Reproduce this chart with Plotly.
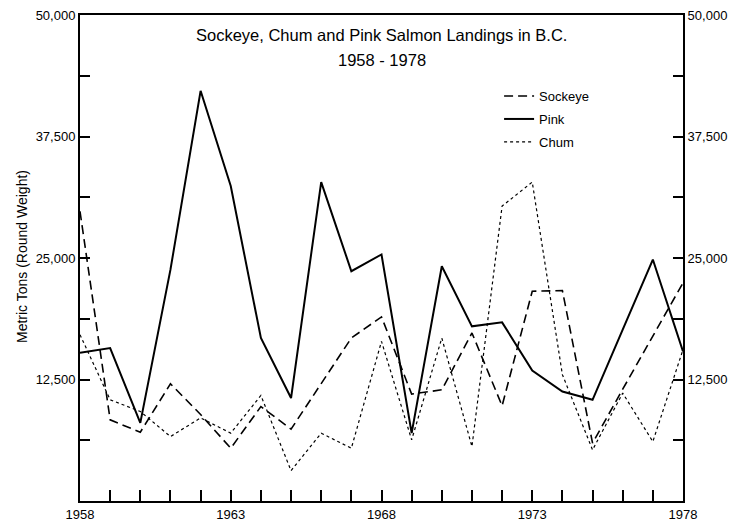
import plotly.graph_objects as go

years = list(range(1958, 1979))
sockeye = [29800, 8350, 7080, 12060, 8900, 5430, 9720, 7390, 12080, 16770, 18940,
           11000, 11440, 17290, 9790, 21580, 21650, 5950, 11500, 17000, 22440]
pink = [15260, 15740, 8040, 23800, 42200, 32400, 16770, 10590, 32800, 23640, 25360,
        6980, 24150, 17970, 18380, 13430, 11270, 10410, 17630, 24840, 15390]
chum = [17110, 10410, 9210, 6630, 8550, 6980, 10860, 3120, 6980, 5430, 16420,
        6290, 16770, 5600, 30340, 32810, 13000, 5260, 11100, 6110, 15570]

y_tickvals = [0, 6250, 12500, 18750, 25000, 31250, 37500, 43750, 50000]
y_ticktext = ["", "", "12,500", "", "25,000", "", "37,500", "", "50,000"]
x_ticktext = [str(y) if (y - 1958) % 5 == 0 else "" for y in years]

FONT = "Liberation Sans"

fig = go.Figure()
fig.add_trace(go.Scatter(x=years, y=sockeye, name="Sockeye", mode="lines",
                         line=dict(color="black", width=1.6, dash="9px,5px"),
                         legendgroup="a"))
fig.add_trace(go.Scatter(x=years, y=pink, name="Pink", mode="lines",
                         line=dict(color="black", width=2), legendgroup="b"))
fig.add_trace(go.Scatter(x=years, y=chum, name="Chum", mode="lines",
                         line=dict(color="black", width=1.2, dash="dot"),
                         legendgroup="c"))
# invisible trace to activate right-hand axis
fig.add_trace(go.Scatter(x=years, y=pink, yaxis="y2", mode="markers",
                         marker=dict(opacity=0), showlegend=False, hoverinfo="skip"))

axis_common = dict(range=[0, 50000], tickvals=y_tickvals, ticktext=y_ticktext,
                   ticks="inside", ticklen=10, tickwidth=2, tickcolor="black",
                   showline=True, linewidth=2, linecolor="black", showgrid=False,
                   zeroline=False, automargin=False, ticklabeloverflow="allow",
                   tickfont=dict(family=FONT, size=13, color="black"))

# page body has an 8px margin, so the figure is offset by 8px
fig.update_layout(
    width=729, height=516,
    margin=dict(l=72, r=54, t=7, b=23),
    paper_bgcolor="white", plot_bgcolor="white",
    xaxis=dict(range=[1958, 1978], tickvals=years, ticktext=x_ticktext,
               ticks="inside", ticklen=11, tickwidth=2, tickcolor="black",
               showline=True, linewidth=2, linecolor="black", mirror=True,
               showgrid=False, zeroline=False, automargin=False,
               ticklabeloverflow="allow",
               tickfont=dict(family=FONT, size=13, color="black")),
    yaxis=dict(**axis_common),
    yaxis2=dict(**axis_common, overlaying="y", side="right"),
    showlegend=True,
    legend=dict(x=0.695, y=0.864, xanchor="left", yanchor="top",
                bgcolor="rgba(0,0,0,0)", traceorder="grouped", tracegroupgap=3,
                font=dict(family=FONT, size=13, color="black")),
    annotations=[
        dict(text="Sockeye, Chum and Pink Salmon Landings in B.C.", x=0.5,
             y=(501 - 35) / 486, xref="paper", yref="paper", showarrow=False,
             xanchor="center", yanchor="middle",
             font=dict(family=FONT, size=16.5, color="black")),
        dict(text="1958 - 1978", x=0.5, y=(501 - 60) / 486, xref="paper",
             yref="paper", showarrow=False, xanchor="center", yanchor="middle",
             font=dict(family=FONT, size=16.5, color="black")),
        dict(text="Metric Tons (Round Weight)", textangle=-90, x=(22 - 80) / 603,
             y=(501 - 257) / 486, xref="paper", yref="paper", showarrow=False,
             xanchor="center", yanchor="middle",
             font=dict(family=FONT, size=14, color="black")),
    ],
)

fig.write_html("out.html")
